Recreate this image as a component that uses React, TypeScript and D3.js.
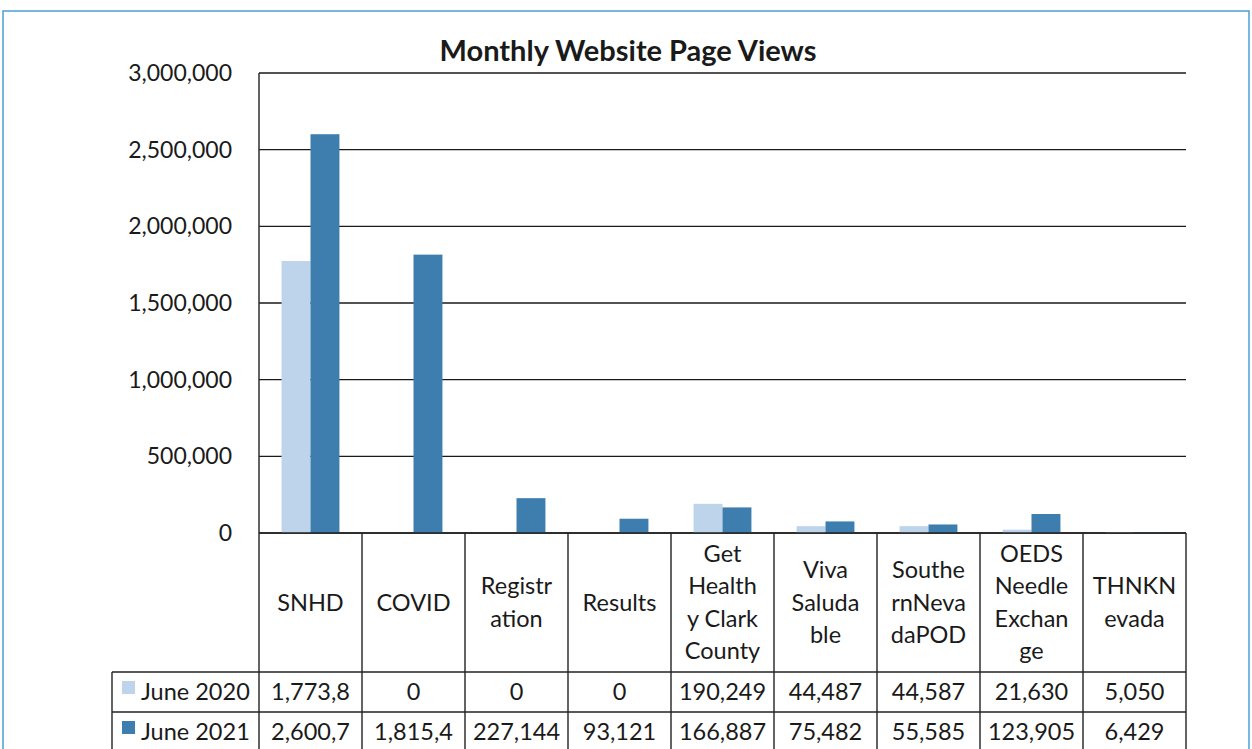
import React, { useEffect, useRef } from 'react';
import * as d3 from 'd3';

const categories = [
  'SNHD',
  'COVID',
  'Registration',
  'Results',
  'Get Healthy Clark County',
  'Viva Saludable',
  'SouthernNevadaPOD',
  'OEDS Needle Exchange',
  'THNKNevada',
];

// how the labels wrap inside the narrow table cells
const categoryLines = [
  ['SNHD'],
  ['COVID'],
  ['Registr', 'ation'],
  ['Results'],
  ['Get', 'Health', 'y Clark', 'County'],
  ['Viva', 'Saluda', 'ble'],
  ['Southe', 'rnNeva', 'daPOD'],
  ['OEDS', 'Needle', 'Exchan', 'ge'],
  ['THNKN', 'evada'],
];

const seriesNames = ['June 2020', 'June 2021'];
const june2020 = [1773800, 0, 0, 0, 190249, 44487, 44587, 21630, 5050];
const june2021 = [2600700, 1815400, 227144, 93121, 166887, 75482, 55585, 123905, 6429];
const yTicks = [0, 500000, 1000000, 1500000, 2000000, 2500000, 3000000];

const colors = ['#bed4ea', '#3e7eae'];
const FONT = 'Lato, "Open Sans", sans-serif';

const Chart: React.FC = () => {
  const svgRef = useRef<SVGSVGElement>(null);

  useEffect(() => {
    if (!svgRef.current) return;
    const W = 1252;
    const H = 749;
    const left = 259, right = 1186, top = 73, bottom = 533;
    const headerBottom = 672;
    const rowH = 40;
    const legendLeft = 112;

    const svg = d3.select(svgRef.current);
    svg.selectAll('*').remove();
    svg.attr('width', W).attr('height', H);

    svg.append('rect').attr('width', W).attr('height', H).attr('fill', '#fff');

    // outer frame of the scanned chart
    svg.append('rect')
      .attr('x', 3).attr('y', 11)
      .attr('width', 1246).attr('height', H + 10)
      .attr('fill', 'none')
      .attr('stroke', '#4a9fd8')
      .attr('stroke-width', 1.5);

    const series = [june2020, june2021];

    const x = d3.scaleBand<string>()
      .domain(categories)
      .range([left, right])
      .padding(0);

    const x1 = d3.scaleBand<string>()
      .domain(seriesNames)
      .range([0, x.bandwidth()])
      .paddingInner(0)
      .paddingOuter(0.78);

    const y = d3.scaleLinear()
      .domain([0, 3000000])
      .range([bottom, top]);

    // gridlines
    svg.append('g')
      .selectAll('line')
      .data(yTicks)
      .enter().append('line')
      .attr('x1', left).attr('x2', right)
      .attr('y1', d => y(d)).attr('y2', d => y(d))
      .attr('stroke', '#1a1a1a')
      .attr('stroke-width', 1.4);

    // y tick labels
    svg.append('g')
      .selectAll('text')
      .data(yTicks)
      .enter().append('text')
      .attr('x', 232)
      .attr('y', d => y(d) + 8)
      .attr('text-anchor', 'end')
      .style('font-family', FONT)
      .style('font-size', '23px')
      .attr('fill', '#1a1a1a')
      .text(d => d3.format(',')(d));

    // bars
    series.forEach((vals, si) => {
      svg.append('g')
        .selectAll('rect')
        .data(categories)
        .enter().append('rect')
        .attr('x', d => (x(d) || 0) + (x1(seriesNames[si]) || 0))
        .attr('width', x1.bandwidth())
        .attr('y', (d, i) => y(vals[i]))
        .attr('height', (d, i) => bottom - y(vals[i]))
        .attr('fill', colors[si]);
    });

    // data table
    const grid = svg.append('g')
      .attr('stroke', '#222')
      .attr('stroke-width', 1.4);

    const tableBottom = headerBottom + rowH * 2;
    grid.append('line')
      .attr('x1', left).attr('x2', left)
      .attr('y1', top).attr('y2', tableBottom);
    grid.append('line')
      .attr('x1', left).attr('x2', right)
      .attr('y1', bottom).attr('y2', bottom);
    [headerBottom, headerBottom + rowH, tableBottom].forEach(yy => {
      grid.append('line')
        .attr('x1', legendLeft).attr('x2', right)
        .attr('y1', yy).attr('y2', yy);
    });
    grid.append('line')
      .attr('x1', legendLeft).attr('x2', legendLeft)
      .attr('y1', headerBottom).attr('y2', tableBottom);
    categories.forEach(c => {
      const xr = (x(c) || 0) + x.bandwidth();
      grid.append('line')
        .attr('x1', xr).attr('x2', xr)
        .attr('y1', bottom).attr('y2', tableBottom);
    });

    // category labels in header row
    const lineH = 32.5;
    const headerMid = (bottom + headerBottom) / 2;
    categories.forEach((c, i) => {
      const lines = categoryLines[i];
      const cx = (x(c) || 0) + x.bandwidth() / 2;
      const y0 = headerMid - ((lines.length - 1) * lineH) / 2;
      lines.forEach((ln, j) => {
        svg.append('text')
          .attr('x', cx)
          .attr('y', y0 + j * lineH + 8)
          .attr('text-anchor', 'middle')
          .style('font-family', FONT)
          .style('font-size', '23.5px')
          .attr('fill', '#1a1a1a')
          .text(ln);
      });
    });

    // value rows, clipped to cell width like the original
    series.forEach((vals, si) => {
      const rowTop = headerBottom + si * rowH;
      svg.append('rect')
        .attr('x', 122).attr('y', rowTop + 9)
        .attr('width', 13).attr('height', 13)
        .attr('fill', colors[si]);
      svg.append('text')
        .attr('x', 141)
        .attr('y', rowTop + 28)
        .style('font-family', FONT)
        .style('font-size', '23.5px')
        .attr('fill', '#1a1a1a')
        .text(seriesNames[si]);
      categories.forEach((c, i) => {
        svg.append('text')
          .attr('x', (x(c) || 0) + x.bandwidth() / 2)
          .attr('y', rowTop + 28)
          .attr('text-anchor', 'middle')
          .style('font-family', FONT)
          .style('font-size', '23.5px')
          .attr('fill', '#1a1a1a')
          .text(d3.format(',')(vals[i]).slice(0, 7));
      });
    });

    // title
    svg.append('text')
      .attr('x', 628)
      .attr('y', 61)
      .attr('text-anchor', 'middle')
      .style('font-family', FONT)
      .style('font-size', '29px')
      .style('font-weight', 'bold')
      .attr('fill', '#1a1a1a')
      .text('Monthly Website Page Views');
  }, []);

  return (
    <div style={{ position: 'absolute', left: 0, top: 0 }}>
      <svg ref={svgRef} style={{ display: 'block' }}></svg>
    </div>
  );
};

export default function App() {
  return <Chart />;
}
